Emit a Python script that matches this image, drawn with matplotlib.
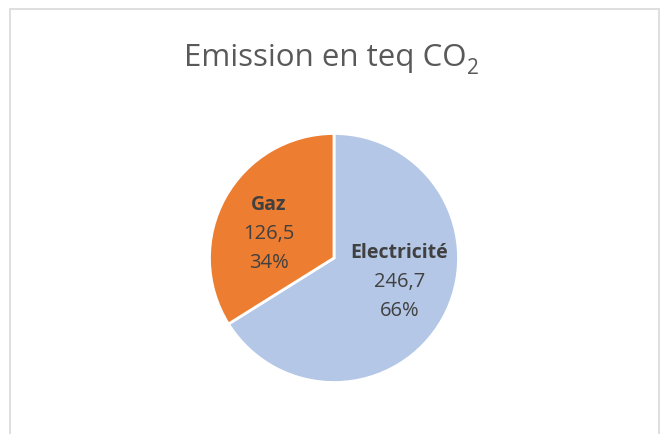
import numpy as np
import matplotlib.pyplot as plt
from matplotlib.patches import Rectangle

categories = ['Electricité', 'Gaz']
values = [246.7, 126.5]
colors = ['#B4C7E7', '#ED7D31']

plt.rcParams['font.family'] = ['Open Sans', 'DejaVu Sans']

fig = plt.figure(figsize=(6.61, 4.34), dpi=100)

# chart border like the spreadsheet frame
fig.patches.append(Rectangle((10 / 661, -0.1), 649 / 661, 1 - 9 / 434 + 0.1,
                             transform=fig.transFigure, fill=False,
                             edgecolor='#D9D9D9', linewidth=1.2))

# title with a real subscript: main part + small "2", centred together
renderer = fig.canvas.get_renderer()
base_y = 1 - 66 / 434
t_main = fig.text(0, base_y, 'Emission en teq CO', ha='left', va='baseline',
                  fontsize=22.5, color='#595959')
t_sub = fig.text(0, base_y - 8 / 434, '2', ha='left', va='baseline',
                 fontsize=15, color='#595959')
w_main = t_main.get_window_extent(renderer).width / fig.bbox.width
w_sub = t_sub.get_window_extent(renderer).width / fig.bbox.width
x0 = 331 / 661 - (w_main + w_sub) / 2
t_main.set_x(x0)
t_sub.set_x(x0 + w_main + 1 / 661)

ax = fig.add_axes([(334 - 127) / 661, (176 - 127) / 434, 254 / 661, 254 / 434])
wedges, _ = ax.pie(values, colors=colors, startangle=90, counterclock=False,
                   radius=1, wedgeprops=dict(edgecolor='white', linewidth=2))
ax.set_xlim(-1.02, 1.02)
ax.set_ylim(-1.02, 1.02)
ax.set_aspect('equal')

total = sum(values)
for w, name, v in zip(wedges, categories, values):
    ang = np.deg2rad((w.theta1 + w.theta2) / 2)
    # labels sit on a flattened ellipse inside the slice, as the spreadsheet does
    x, y = 0.60 * np.cos(ang), 0.40 * np.sin(ang)
    val = f'{v:.1f}'.replace('.', ',')
    pct = f'{v / total * 100:.0f}%'
    ax.annotate(name, (x, y), xytext=(0, 21), textcoords='offset points',
                ha='center', va='center', fontsize=14, fontweight='bold',
                color='#404040')
    ax.annotate(val, (x, y), xytext=(0, 0), textcoords='offset points',
                ha='center', va='center', fontsize=14.5, color='#404040')
    ax.annotate(pct, (x, y), xytext=(0, -21), textcoords='offset points',
                ha='center', va='center', fontsize=14.5, color='#404040')

fig.savefig('out.png', dpi=100)
